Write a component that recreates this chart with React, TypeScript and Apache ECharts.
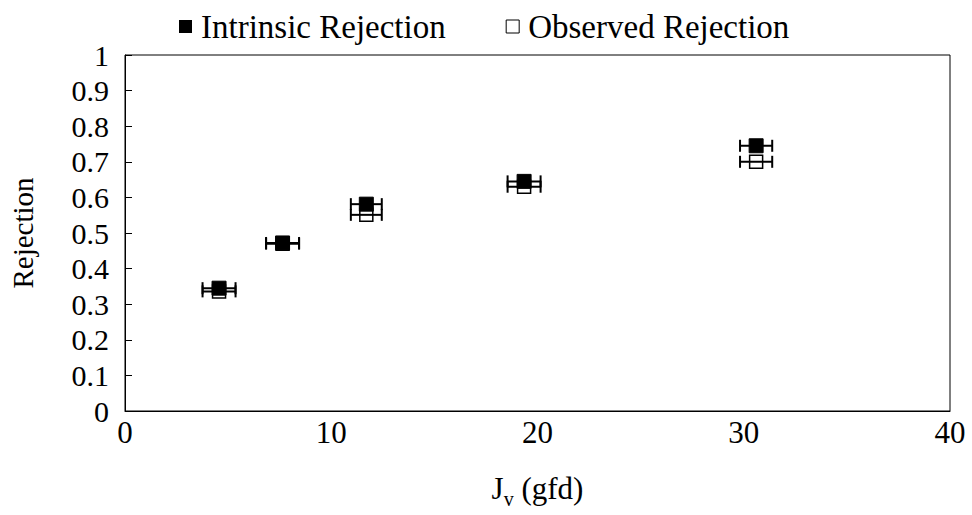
import React, { useEffect, useRef } from "react";
import * as echarts from "echarts";

const flux = [4.56, 7.64, 11.7, 19.35, 30.6];
const fluxErr = [0.8, 0.8, 0.75, 0.8, 0.78];
const intrinsic = [0.345, 0.472, 0.581, 0.645, 0.745];
const observed = [0.336, 0.47, 0.551, 0.63, 0.7];
const xTicks = [0, 10, 20, 30, 40];

const FONT = "'Liberation Serif', 'Times New Roman', serif";

function errorSeries(name: string, ys: number[], z: number) {
  return {
    type: "custom",
    name: name + "-err",
    z,
    silent: true,
    data: flux.map((x, i) => [x, ys[i], x - fluxErr[i], x + fluxErr[i]]),
    encode: { x: [0, 2, 3], y: 1 },
    renderItem: (params: any, api: any) => {
      const y = api.value(1);
      const p1 = api.coord([api.value(2), y]);
      const p2 = api.coord([api.value(3), y]);
      const cap = 6;
      const style = { stroke: "#000", lineWidth: 2 };
      return {
        type: "group",
        children: [
          { type: "line", shape: { x1: p1[0], y1: p1[1], x2: p2[0], y2: p2[1] }, style },
          { type: "line", shape: { x1: p1[0], y1: p1[1] - cap, x2: p1[0], y2: p1[1] + cap }, style },
          { type: "line", shape: { x1: p2[0], y1: p2[1] - cap, x2: p2[0], y2: p2[1] + cap }, style },
        ],
      };
    },
  };
}

export default function App() {
  const ref = useRef<HTMLDivElement>(null);
  useEffect(() => {
    const chart = echarts.init(ref.current!, null, { renderer: "svg" });
    chart.setOption({
      animation: false,
      backgroundColor: "#fff",
      textStyle: { fontFamily: FONT },
      legend: {
        top: 5,
        left: 174,
        itemGap: 60,
        itemWidth: 13,
        itemHeight: 13,
        textStyle: { fontFamily: FONT, fontSize: 33, color: "#000", padding: [0, 0, 0, 4] },
        data: [
          { name: "Intrinsic Rejection", icon: "rect", itemStyle: { color: "#000", borderColor: "#000" } },
          { name: "Observed Rejection", icon: "rect", itemStyle: { color: "#fff", borderColor: "#000", borderWidth: 1 } },
        ],
      },
      grid: {
        left: 125, right: 22, top: 55, bottom: 104,
        containLabel: false, outerBoundsMode: "none",
        show: true, borderColor: "#000", borderWidth: 1,
      },
      xAxis: {
        type: "value",
        min: 0,
        max: 40,
        interval: 10,
        name: "{a|J}{s|v}{a| (gfd)}",
        nameLocation: "middle",
        nameGap: 56,
        nameTextStyle: {
          rich: {
            a: { fontFamily: FONT, fontSize: 31, color: "#000" },
            s: { fontFamily: FONT, fontSize: 20, color: "#000", padding: [22, 0, 0, 0] },
          },
        },
        axisLine: { lineStyle: { color: "#000" } },
        axisTick: { show: false },
        splitLine: { show: false },
        axisLabel: { fontFamily: FONT, fontSize: 31, color: "#000", margin: 6, formatter: (v: number) => (xTicks.includes(v) ? String(v) : "") },
      },
      yAxis: {
        type: "value",
        min: 0,
        max: 1,
        interval: 0.1,
        name: "Rejection",
        nameLocation: "middle",
        nameGap: 88,
        nameTextStyle: { fontFamily: FONT, fontSize: 29, color: "#000" },
        axisLine: { lineStyle: { color: "#000" } },
        axisTick: { inside: true, length: 7, lineStyle: { color: "#000" } },
        splitLine: { show: false },
        axisLabel: { fontFamily: FONT, fontSize: 30, color: "#000", margin: 16, formatter: (v: number) => String(Math.round(v * 10) / 10) },
      },
      series: [
        {
          type: "scatter",
          name: "Observed Rejection",
          symbol: "rect",
          symbolSize: 13,
          z: 2,
          itemStyle: { color: "#fff", borderColor: "#000", borderWidth: 1.5, opacity: 1 },
          data: flux.map((x, i) => [x, observed[i]]),
        },
        errorSeries("Observed Rejection", observed, 3),
        {
          type: "scatter",
          name: "Intrinsic Rejection",
          symbol: "rect",
          symbolSize: 14,
          z: 4,
          itemStyle: { color: "#000", borderColor: "#000", opacity: 1 },
          data: flux.map((x, i) => [x, intrinsic[i]]),
        },
        errorSeries("Intrinsic Rejection", intrinsic, 5),
      ],
    });
    return () => chart.dispose();
  }, []);
  return <div ref={ref} style={{ width: 972, height: 515, position: "absolute", left: 0, top: 0 }} />;
}
